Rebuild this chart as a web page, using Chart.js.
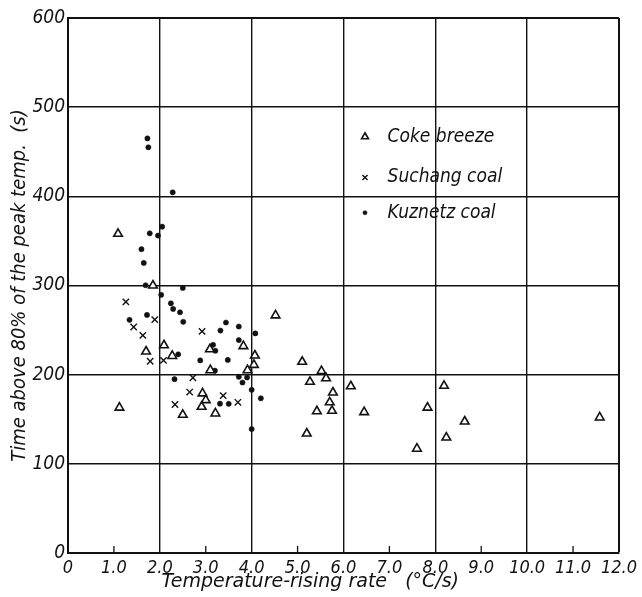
<!DOCTYPE html>
<html>
<head>
<meta charset="utf-8">
<script src="https://cdn.jsdelivr.net/npm/chart.js@4.4.0/dist/chart.umd.min.js"></script>
<style>
  html, body { margin: 0; padding: 0; background: #fff; }
</style>
</head>
<body>
<canvas id="chart" width="642" height="597"></canvas>
<script>
// Time above 80% of peak temp. vs temperature-rising rate

const cokeX = [1.09, 1.85, 1.12, 1.70, 2.09, 2.27, 2.50, 2.93, 3.00, 2.91, 3.09, 3.10, 3.21, 3.82, 3.91, 4.05, 4.07, 4.52,
  5.10, 5.27, 5.52, 5.62, 5.77, 5.70, 5.75, 5.42, 5.20, 6.16, 6.45, 7.60, 7.83, 8.19, 8.24, 8.64, 11.58];
const cokeY = [358, 300, 163, 226, 233, 221, 155, 179, 171.5, 164, 228.5, 205, 156.5, 232, 205, 211, 221.5, 266.5,
  214.5, 192, 204, 196, 180, 169, 159.5, 159, 134, 187, 158, 117, 163, 187.5, 129.5, 147.5, 152];

const suchangX = [1.26, 1.43, 1.63, 1.89, 1.79, 2.08, 2.92, 2.72, 2.65, 2.33, 3.38, 3.70];
const suchangY = [281.7, 253.5, 244, 261.7, 215, 216, 248.5, 196.5, 180.5, 166.5, 176.5, 169];

const kuznetzX = [1.73, 1.75, 2.28, 2.05, 1.78, 1.96, 1.60, 1.65, 1.69, 2.03, 2.50, 1.34, 1.72, 2.24, 2.29, 2.44, 2.51,
  2.40, 2.32, 2.88, 3.16, 3.21, 3.20, 3.32, 3.44, 3.48, 3.72, 3.72, 3.72, 3.80, 3.90, 4.00, 4.08, 4.20, 4.00, 3.31, 3.50];
const kuznetzY = [465, 455, 404.5, 366, 358.5, 356, 340.7, 325.3, 300.3, 289.5, 297.3, 261.5, 267, 280, 273.7, 270, 259.3,
  222.8, 195, 216, 233.5, 226.8, 204.5, 249.5, 258.5, 216.5, 254, 238.8, 197.6, 191.2, 196.8, 183, 246.3, 173.5, 139, 167.5, 167.3];

const seriesNames = ["Coke breeze", "Suchang coal", "Kuznetz coal"];
const minorTicksX = [1, 3, 5, 7, 9, 11];

function toPoints(xs, ys) {
  return xs.map((x, i) => ({ x: x, y: ys[i] }));
}

const numFont = "'Liberation Sans Narrow', 'DejaVu Sans Condensed', sans-serif";
const textFont = "'DejaVu Sans Condensed', 'DejaVu Sans', sans-serif";

// short ticks on the bottom axis at the odd values
const minorTicks = {
  id: "minorTicks",
  afterDraw(chart) {
    const { ctx, chartArea: a, scales } = chart;
    ctx.save();
    ctx.strokeStyle = "#111";
    ctx.lineWidth = 1.3;
    minorTicksX.forEach(v => {
      const px = scales.x.getPixelForValue(v);
      ctx.beginPath();
      ctx.moveTo(px, a.bottom);
      ctx.lineTo(px, a.bottom - 7);
      ctx.stroke();
    });
    ctx.restore();
  }
};

// legend drawn inside the plot
const innerLegend = {
  id: "innerLegend",
  afterDatasetsDraw(chart) {
    const { ctx, chartArea: a } = chart;
    const mx = a.left + a.width * 0.539;
    const tx = a.left + a.width * 0.58;
    const rows = [0.222, 0.298, 0.364];
    ctx.save();
    chart.data.datasets.forEach((ds, i) => {
      const y = a.top + a.height * rows[i];
      ctx.fillStyle = ds.backgroundColor;
      ctx.strokeStyle = ds.borderColor;
      ctx.lineWidth = ds.borderWidth;
      Chart.helpers.drawPoint(ctx, {
        pointStyle: ds.pointStyle,
        radius: ds.pointRadius * 0.8,
        rotation: 0,
        borderWidth: ds.borderWidth
      }, mx, y);
      ctx.fillStyle = "#111";
      ctx.font = "italic 19px " + textFont;
      ctx.textAlign = "left";
      ctx.textBaseline = "middle";
      ctx.fillText(ds.label, tx, y);
    });
    ctx.restore();
  }
};

const chart = new Chart(document.getElementById("chart"), {
  type: "scatter",
  data: {
    datasets: [
      {
        label: seriesNames[0],
        data: toPoints(cokeX, cokeY),
        pointStyle: "triangle",
        pointRadius: 5,
        borderWidth: 1.6,
        borderColor: "#111",
        backgroundColor: "#fff"
      },
      {
        label: seriesNames[1],
        data: toPoints(suchangX, suchangY),
        pointStyle: "crossRot",
        pointRadius: 4.5,
        borderWidth: 1.4,
        borderColor: "#111",
        backgroundColor: "#111"
      },
      {
        label: seriesNames[2],
        data: toPoints(kuznetzX, kuznetzY),
        pointStyle: "circle",
        pointRadius: 2.6,
        borderWidth: 0.5,
        borderColor: "#111",
        backgroundColor: "#111"
      }
    ]
  },
  options: {
    responsive: false,
    animation: false,
    layout: { padding: { left: 0, right: 21, top: 18, bottom: 0 } },
    plugins: {
      legend: { display: false },
      tooltip: { enabled: false }
    },
    scales: {
      x: {
        type: "linear",
        min: 0,
        max: 12,
        afterFit: s => { s.height = 44; },
        ticks: {
          stepSize: 1,
          color: "#111",
          padding: 5,
          font: { family: numFont, size: 18, style: "italic" },
          callback: v => (v === 0 ? "0" : v.toFixed(1))
        },
        grid: {
          drawTicks: false,
          color: c => (c.tick && c.tick.value % 2 === 0 ? "#111" : "rgba(0,0,0,0)"),
          lineWidth: c => (c.tick && c.tick.value === 12 ? 2 : 1.4)
        },
        border: { color: "#111", width: 2 },
        title: {
          display: true,
          // trailing spaces pull the centred title left, as in the original
          text: "Temperature-rising rate   (°C/s)" + "\u00a0".repeat(11),
          color: "#111",
          font: { family: "'DejaVu Sans', sans-serif", size: 19, style: "italic" },
          padding: { top: 0, bottom: 4 }
        }
      },
      y: {
        type: "linear",
        min: 0,
        max: 600,
        afterFit: s => { s.width = 68; },
        ticks: {
          stepSize: 100,
          color: "#111",
          padding: 3,
          font: { family: numFont, size: 19, style: "italic" }
        },
        grid: {
          drawTicks: false,
          color: "#111",
          lineWidth: c => (c.tick && c.tick.value === 600 ? 2 : 1.4)
        },
        border: { color: "#111", width: 2 },
        title: {
          display: true,
          text: "Time above 80% of the peak temp.  (s)",
          color: "#111",
          font: { family: textFont, size: 20, style: "italic" },
          padding: { top: 8, bottom: 0 }
        }
      }
    }
  },
  plugins: [minorTicks, innerLegend]
});
</script>
</body>
</html>
